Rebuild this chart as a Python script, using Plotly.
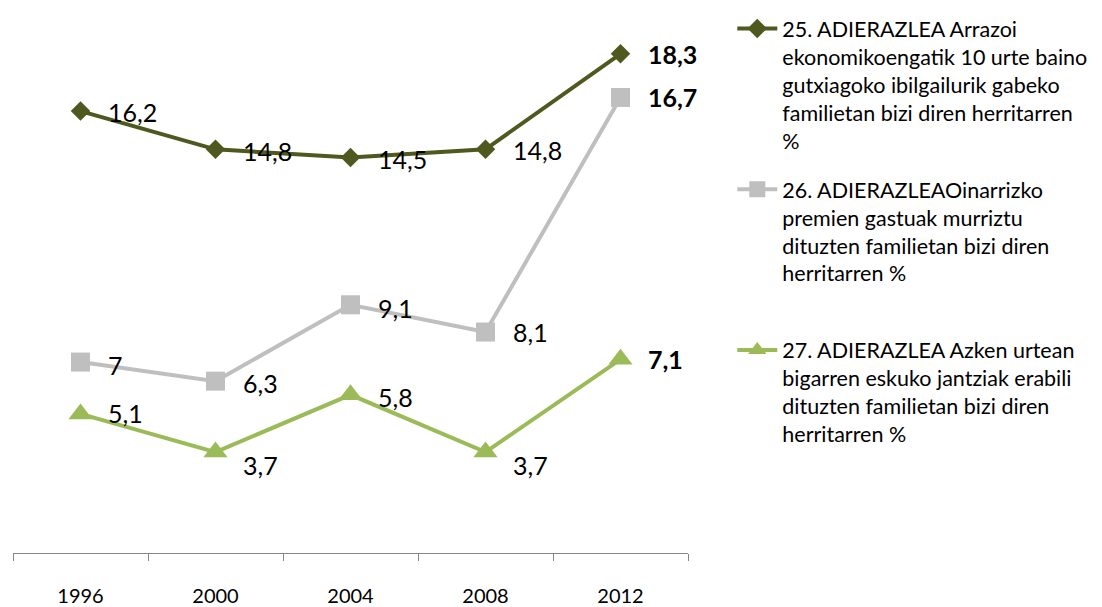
import plotly.graph_objects as go

years = ["1996", "2000", "2004", "2008", "2012"]
ind25 = [16.2, 14.8, 14.5, 14.8, 18.3]
ind26 = [7.0, 6.3, 9.1, 8.1, 16.7]
ind27 = [5.1, 3.7, 5.8, 3.7, 7.1]
names = [
    "25. ADIERAZLEA Arrazoi<br>ekonomikoengatik 10 urte baino<br>gutxiagoko ibilgailurik gabeko<br>familietan bizi diren herritarren<br>%",
    "26. ADIERAZLEAOinarrizko<br>premien gastuak murriztu<br>dituzten familietan bizi diren<br>herritarren %<br> ",
    "27. ADIERAZLEA Azken urtean<br>bigarren eskuko jantziak erabili<br>dituzten familietan bizi diren<br>herritarren %",
]

FONT = "Lato"
colors = ["#4E581F", "#BFBFBF", "#9BBB59"]
symbols = ["diamond", "square", "triangle-up"]
msizes = [15, 19, 21]

def fmt(v):
    s = f"{v:.1f}".replace(".", ",")
    return s[:-2] if s.endswith(",0") else s

fig = go.Figure()
series = [ind25, ind26, ind27]
for i, vals in enumerate(series):
    fig.add_trace(go.Scatter(
        x=years, y=vals, name=names[i], mode="lines+markers",
        line=dict(color=colors[i], width=4),
        marker=dict(symbol=symbols[i], size=msizes[i], color=colors[i]),
        legendgroup=f"g{i}",
    ))

# data labels (x given as category index)
yshifts = [[-1, -2, -2, -1, 0], [-3, -2, -3, 0, 0], [1, -13, -2, -13, 0]]
for i, vals in enumerate(series):
    for j, v in enumerate(vals):
        t = fmt(v)
        if j == len(vals) - 1:
            t = f"<b>{t}</b>"
        fig.add_annotation(
            x=j, y=v, xref="x", yref="y", text=t, showarrow=False,
            xanchor="left", yanchor="middle", xshift=25, yshift=yshifts[i][j],
            font=dict(family=FONT, size=25, color="#000000"),
        )

fig.update_layout(
    width=1094, height=599,
    margin=dict(l=5, r=414, t=0, b=49),
    paper_bgcolor="white", plot_bgcolor="white",
    showlegend=True,
    legend=dict(
        x=1.0656, xanchor="left", y=1.006, yanchor="top",
        font=dict(family=FONT, size=21.5, color="#000000"),
        valign="top", tracegroupgap=18, itemwidth=40,
        maxheight=590,
        bgcolor="rgba(0,0,0,0)",
    ),
    font=dict(family=FONT, color="#000000"),
)
fig.update_xaxes(
    type="category", categoryorder="array", categoryarray=years,
    range=[-0.5, len(years) - 0.5], autorange=False,
    showgrid=False, showline=True, linecolor="#868686", linewidth=1,
    ticks="outside", ticklen=7, tickcolor="#868686", tickson="boundaries",
    tickfont=dict(family=FONT, size=20, color="#000000"), tickangle=0,
    ticklabelstandoff=25,
)
fig.update_yaxes(range=[0, 19.87], visible=False, showgrid=False, zeroline=False)

fig.write_html("out.html")
